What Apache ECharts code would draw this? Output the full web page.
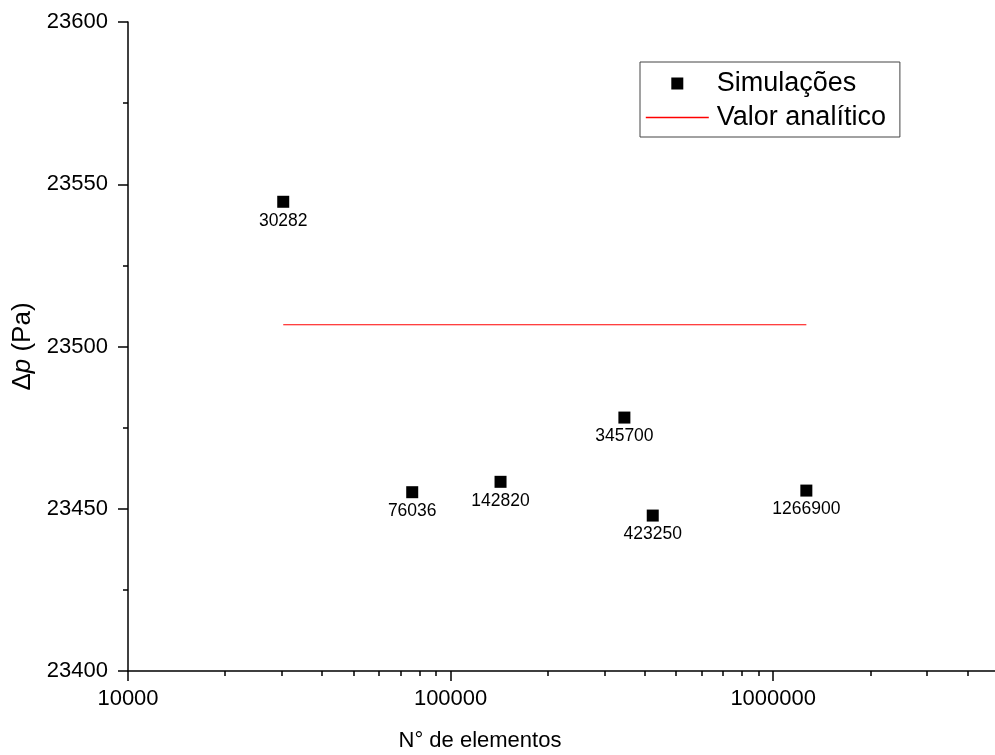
<!DOCTYPE html>
<html><head><meta charset="utf-8">
<script src="https://cdn.jsdelivr.net/npm/echarts@6/dist/echarts.min.js"></script>
<style>html,body{margin:0;padding:0;background:#fff}#c{width:995px;height:755px}</style>
</head><body><div id="c"></div>
<script>
// ---- data ----
const elements = [30282, 76036, 142820, 345700, 423250, 1266900];
const pressureDrop = [23544.6, 23455.1, 23458.3, 23478.1, 23447.9, 23455.6];
const analyticValue = 23506.7;
const analyticRange = [30282, 1266900];
const xMajorTicks = [10000, 100000, 1000000];
const xMinorTicks = [20000, 30000, 40000, 50000, 60000, 70000, 80000, 90000,
  200000, 300000, 400000, 500000, 600000, 700000, 800000, 900000,
  2000000, 3000000, 4000000];
const seriesNames = ['Simulações', 'Valor analítico'];
const xTitle = 'N° de elementos';

const FONT = '"Liberation Sans", Arial, sans-serif';
const X_MIN = 10000, X_MAX = 4870000;
const gridBox = {left: 128, right: 0, top: 22, bottom: 84};

const chart = echarts.init(document.getElementById('c'), null, {renderer: 'canvas'});
chart.setOption({
  animation: false,
  backgroundColor: '#fff',
  textStyle: {fontFamily: FONT, color: '#000'},
  grid: [
    Object.assign({containLabel: false, outerBoundsMode: 'none'}, gridBox),
    Object.assign({containLabel: false, outerBoundsMode: 'none'}, gridBox)
  ],
  legend: {
    orient: 'vertical',
    left: 640, top: 62,
    padding: [8, 14, 6, 5],
    itemGap: 7,
    itemWidth: 63, itemHeight: 12,
    borderColor: '#444', borderWidth: 1,
    textStyle: {fontSize: 27, fontFamily: FONT, color: '#000', padding: [0, 0, 0, 3]},
    data: [
      {name: seriesNames[0], icon: 'path://M0,0H10V10H0Z',
        itemStyle: {color: '#000', opacity: 1, borderWidth: 0}},
      {name: seriesNames[1],
        itemStyle: {opacity: 0, borderWidth: 0},
        lineStyle: {color: '#ff0000', width: 1.6, opacity: 1}}
    ]
  },
  xAxis: [{
    type: 'log', gridIndex: 0, min: X_MIN, max: X_MAX, logBase: 10,
    axisLine: {show: true, lineStyle: {color: '#000', width: 1.5}},
    axisTick: {show: true, inside: false, length: 10, customValues: xMajorTicks,
      lineStyle: {color: '#000', width: 1.5}},
    axisLabel: {show: true, customValues: xMajorTicks, fontSize: 22, margin: 17,
      color: '#000', fontFamily: FONT, formatter: v => String(Math.round(v))},
    splitLine: {show: false}, minorTick: {show: false}
  }, {
    type: 'log', gridIndex: 1, min: X_MIN, max: X_MAX, logBase: 10,
    axisLine: {show: false},
    axisTick: {show: true, inside: false, length: 5, customValues: xMinorTicks,
      lineStyle: {color: '#000', width: 1.5}},
    axisLabel: {show: false},
    splitLine: {show: false}
  }],
  yAxis: [{
    type: 'value', gridIndex: 0, min: 23400, max: 23600, interval: 50,
    axisLine: {show: true, lineStyle: {color: '#000', width: 1.5}},
    axisTick: {show: true, inside: false, length: 10, lineStyle: {color: '#000', width: 1.5}},
    minorTick: {show: true, splitNumber: 2, length: 5, lineStyle: {color: '#000', width: 1.5}},
    axisLabel: {fontSize: 22, margin: 20, color: '#000', fontFamily: FONT,
      formatter: v => String(v)},
    splitLine: {show: false},
    name: '{d|Δ}{p|p} (Pa)',
    nameLocation: 'middle', nameRotate: 90, nameGap: 86,
    nameTextStyle: {fontSize: 26, color: '#000', fontFamily: FONT,
      rich: {d: {fontSize: 26, fontFamily: FONT}, p: {fontSize: 26, fontStyle: 'italic', fontFamily: FONT}}}
  }, {
    type: 'value', gridIndex: 1, min: 23400, max: 23600, show: false
  }],
  graphic: [{
    type: 'text', x: 480, y: 741,
    style: {text: xTitle, textAlign: 'center', textVerticalAlign: 'middle',
      font: '22px ' + FONT, fill: '#000'}
  }],
  series: [{
    name: seriesNames[0], type: 'scatter', xAxisIndex: 0, yAxisIndex: 0,
    symbol: 'rect', symbolSize: 12,
    itemStyle: {color: '#000', opacity: 1},
    label: {show: true, position: 'bottom', distance: 4, fontSize: 17.5, color: '#000',
      fontFamily: FONT, formatter: p => String(p.value[0])},
    data: elements.map((e, i) => [e, pressureDrop[i]])
  }, {
    name: seriesNames[1], type: 'line', xAxisIndex: 0, yAxisIndex: 0,
    symbol: 'none', showSymbol: false,
    lineStyle: {color: '#ff0000', width: 1.2},
    itemStyle: {color: '#ff0000'},
    data: analyticRange.map(x => [x, analyticValue])
  }]
});
</script></body></html>
